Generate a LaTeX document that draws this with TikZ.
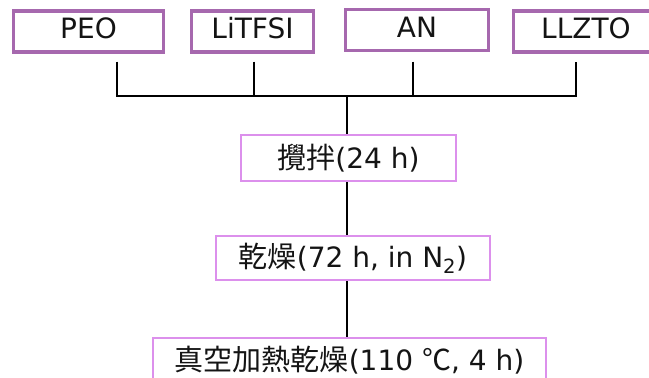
\documentclass[tikz,border=0pt]{standalone}
\usepackage{fontspec}
\setmainfont{DejaVu Sans}
\newfontfamily\cjkfam{Noto Sans CJK JP}
\newcommand\jpt[1]{{\cjkfam\fontsize{29}{31}\selectfont #1}}
\definecolor{topc}{HTML}{A668AE}
\definecolor{stepc}{HTML}{DC90EC}
\definecolor{txt}{HTML}{141414}
\begin{document}
\begin{tikzpicture}[x=1pt,y=-1pt,
  topbox/.style={draw=topc, line width=3.2pt, minimum height=41pt, inner sep=0pt,
    text height=20.5pt, text depth=6.5pt, font=\fontsize{28}{31}\selectfont, text=txt},
  stepbox/.style={draw=stepc, line width=2.6pt, inner sep=0pt,
    font=\fontsize{28}{31}\selectfont, text=txt},
  conn/.style={draw=black, line width=1.6pt}]
\useasboundingbox (0,0) rectangle (649,378);
\node[topbox, minimum width=150pt] (peo) at (88.5,31.5) {PEO};
\node[topbox, minimum width=122pt] (litfsi) at (252.5,31.5) {LiTFSI};
\node[topbox, minimum width=143pt] (an) at (417,30) {AN};
\node[topbox, minimum width=145pt] (llzto) at (586,31.5) {LLZTO};

\node[stepbox, minimum width=215pt, minimum height=46pt] (s1) at (348.5,158) {\jpt{攪拌}(24 h)};
\node[stepbox, minimum width=274pt, minimum height=44pt] (s2) at (353,258) {\jpt{乾燥}(72 h, in N\textsubscript{2})};
\node[stepbox, minimum width=393pt, minimum height=44pt] (s3) at (349.5,360) {\jpt{真空加熱乾燥}(110 \jpt{℃}, 4 h)};

\coordinate (bus) at (347,96);
\coordinate (d1) at ([xshift=28.5pt,yshift=-8pt]peo.south);
\coordinate (d2) at ([xshift=1.5pt,yshift=-8pt]litfsi.south);
\coordinate (d3) at ([xshift=-4pt,yshift=-9.5pt]an.south);
\coordinate (d4) at ([xshift=-10pt,yshift=-8pt]llzto.south);

\draw[conn] (d1) -- (d1 |- bus) -- (d4 |- bus) -- (d4);
\draw[conn] (d2) -- (d2 |- bus);
\draw[conn] (d3) -- (d3 |- bus);
\draw[conn] (bus) -- (bus |- s1.north);
\draw[conn] (s1.south -| bus) -- (s2.north -| bus);
\draw[conn] (s2.south -| bus) -- (s3.north -| bus);
\end{tikzpicture}
\end{document}
